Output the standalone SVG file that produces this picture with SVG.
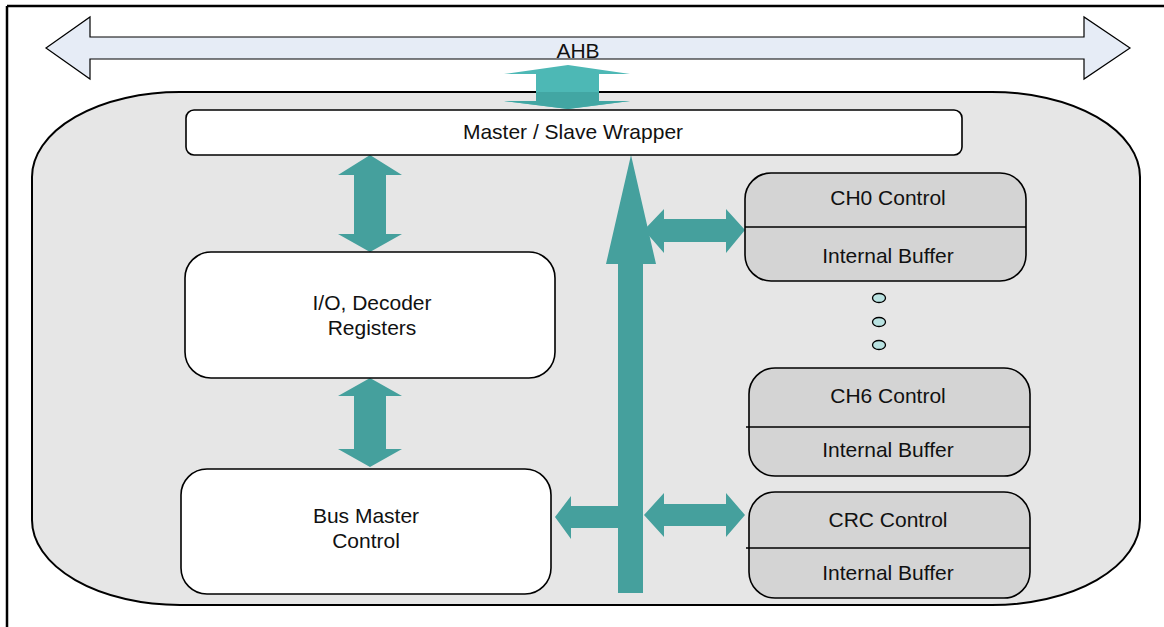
<svg xmlns="http://www.w3.org/2000/svg" width="1164" height="627" viewBox="0 0 1164 627">
<defs>
<style>
.t{font-family:"Liberation Sans",Arial,sans-serif;font-size:21px;fill:#111;text-anchor:middle}
.wb{fill:#fff;stroke:#000;stroke-width:1.6}
.cb{fill:#d4d4d4;stroke:#000;stroke-width:1.6}
.dv{stroke:#000;stroke-width:1.6;fill:none}
.ar{fill:#45a09d}
.dot{fill:#b9e2e1;stroke:#000;stroke-width:1.3}
</style>
<clipPath id="inside"><rect x="0" y="92" width="1164" height="535"/></clipPath>
</defs>
<rect width="1164" height="627" fill="#fff"/>
<g id="frame">
<line x1="7" y1="6" x2="1164" y2="6" stroke="#000" stroke-width="2.5"/>
<line x1="7" y1="6" x2="7" y2="627" stroke="#000" stroke-width="2.5"/>
</g>
<g id="ahb">
<polygon points="46,48 90,17 90,37 1084,37 1084,17 1130,48 1084,79 1084,59 90,59 90,79" fill="#e6ecf6" stroke="#000" stroke-width="1.2"/>
<text class="t" x="578" y="58">AHB</text>
</g>
<g id="container">
<rect x="32" y="92" width="1108" height="513" rx="148" ry="85" fill="#e6e6e6" stroke="#000" stroke-width="2"/>
</g>
<g id="connectors">
<polygon points="568,65 630,74 599,74 599,101 630,101 568,109 504,101 536,101 536,74 504,74" fill="#4db8b5"/>
<polygon points="568,65 630,74 599,74 599,101 630,101 568,109 504,101 536,101 536,74 504,74" fill="#42a6a3" clip-path="url(#inside)"/>
<polygon class="ar" points="370,155 402,175 386,175 386,234 402,234 370,252 338,234 354,234 354,175 338,175"/>
<polygon class="ar" points="370,378 402,396 386,396 386,449 402,449 370,467 338,449 354,449 354,396 338,396"/>
<polygon class="ar" points="631,155 656,264 643,264 643,593 618,593 618,264 606,264"/>
<polygon class="ar" points="555,517 571,496 571,506 618,506 618,528 571,528 571,539"/>
<polygon class="ar" points="644,230 664,209 664,219 726,219 726,209 745,230 726,253 726,242 664,242 664,253"/>
<polygon class="ar" points="644,515 664,493 664,504 726,504 726,493 745,515 726,537 726,526 664,526 664,537"/>
</g>
<g id="wrapper">
<rect class="wb" x="186" y="110" width="776" height="45" rx="8"/>
<text class="t" x="573" y="139">Master / Slave Wrapper</text>
</g>
<g id="io">
<rect class="wb" x="185" y="252" width="370" height="126" rx="26"/>
<text class="t" x="372" y="310">I/O, Decoder</text>
<text class="t" x="372" y="335">Registers</text>
</g>
<g id="busmaster">
<rect class="wb" x="181" y="469" width="370" height="125" rx="26"/>
<text class="t" x="366" y="523">Bus Master</text>
<text class="t" x="366" y="548">Control</text>
</g>
<g id="ch0">
<rect class="cb" x="745" y="173" width="281" height="108" rx="26"/>
<line class="dv" x1="745" y1="227" x2="1026" y2="227"/>
<text class="t" x="888" y="205">CH0 Control</text>
<text class="t" x="888" y="263">Internal Buffer</text>
</g>
<g id="dots">
<ellipse class="dot" cx="879" cy="298" rx="6.5" ry="4.5"/>
<ellipse class="dot" cx="879" cy="322" rx="6.5" ry="4.5"/>
<ellipse class="dot" cx="879" cy="345" rx="6.5" ry="4.5"/>
</g>
<g id="ch6">
<rect class="cb" x="749" y="368" width="281" height="108" rx="26"/>
<line class="dv" x1="746" y1="427" x2="1030" y2="427"/>
<text class="t" x="888" y="403">CH6 Control</text>
<text class="t" x="888" y="457">Internal Buffer</text>
</g>
<g id="crc">
<rect class="cb" x="749" y="492" width="281" height="106" rx="26"/>
<line class="dv" x1="746" y1="548" x2="1030" y2="548"/>
<text class="t" x="888" y="527">CRC Control</text>
<text class="t" x="888" y="580">Internal Buffer</text>
</g>
</svg>
